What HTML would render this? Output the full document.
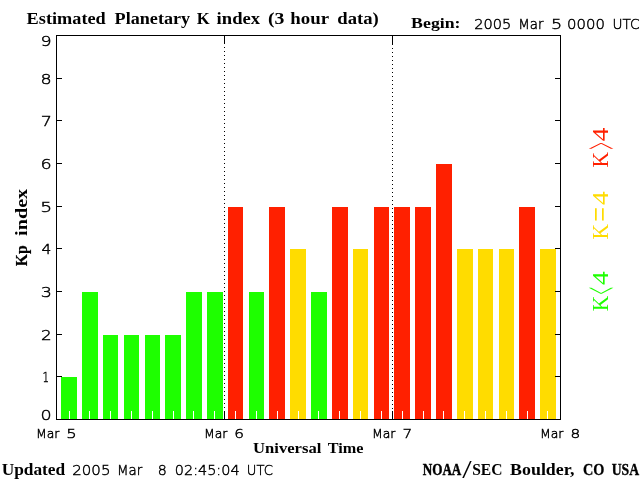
<!DOCTYPE html>
<html lang="en"><head><meta charset="utf-8"><title>Estimated Planetary K index</title>
<style>
html,body{margin:0;padding:0;background:#fff;}
body{width:640px;height:480px;overflow:hidden;}
svg{display:block;}
text{white-space:pre;}
.b{font-family:"Liberation Serif","DejaVu Serif",serif;font-weight:bold;fill:#000;}
.s{font-family:"DejaVu Sans","Liberation Sans",sans-serif;font-weight:200;fill:#000;stroke:#000;stroke-width:0.45;}
.l{font-family:"Liberation Serif","DejaVu Serif",serif;font-weight:normal;}
</style></head><body>
<svg width="640" height="480" viewBox="0 0 640 480">
<rect width="640" height="480" fill="#fff"/>
<g shape-rendering="crispEdges">
<rect x="61" y="377" width="16" height="42" fill="#1eff00"/>
<rect x="82" y="292" width="16" height="127" fill="#1eff00"/>
<rect x="103" y="335" width="15" height="84" fill="#1eff00"/>
<rect x="124" y="335" width="15" height="84" fill="#1eff00"/>
<rect x="145" y="335" width="15" height="84" fill="#1eff00"/>
<rect x="165" y="335" width="16" height="84" fill="#1eff00"/>
<rect x="186" y="292" width="16" height="127" fill="#1eff00"/>
<rect x="207" y="292" width="16" height="127" fill="#1eff00"/>
<rect x="228" y="207" width="15" height="212" fill="#ff2000"/>
<rect x="249" y="292" width="15" height="127" fill="#1eff00"/>
<rect x="269" y="207" width="16" height="212" fill="#ff2000"/>
<rect x="290" y="249" width="16" height="170" fill="#ffdc00"/>
<rect x="311" y="292" width="16" height="127" fill="#1eff00"/>
<rect x="332" y="207" width="16" height="212" fill="#ff2000"/>
<rect x="353" y="249" width="15" height="170" fill="#ffdc00"/>
<rect x="374" y="207" width="15" height="212" fill="#ff2000"/>
<rect x="394" y="207" width="16" height="212" fill="#ff2000"/>
<rect x="415" y="207" width="16" height="212" fill="#ff2000"/>
<rect x="436" y="164" width="16" height="255" fill="#ff2000"/>
<rect x="457" y="249" width="16" height="170" fill="#ffdc00"/>
<rect x="478" y="249" width="15" height="170" fill="#ffdc00"/>
<rect x="499" y="249" width="15" height="170" fill="#ffdc00"/>
<rect x="519" y="207" width="16" height="212" fill="#ff2000"/>
<rect x="540" y="249" width="16" height="170" fill="#ffdc00"/>
<rect x="69" y="411" width="1" height="8" fill="#fff"/>
<rect x="89" y="411" width="1" height="8" fill="#fff"/>
<rect x="110" y="411" width="1" height="8" fill="#fff"/>
<rect x="131" y="411" width="1" height="8" fill="#fff"/>
<rect x="152" y="411" width="1" height="8" fill="#fff"/>
<rect x="173" y="411" width="1" height="8" fill="#fff"/>
<rect x="193" y="411" width="1" height="8" fill="#fff"/>
<rect x="214" y="411" width="1" height="8" fill="#fff"/>
<rect x="235" y="411" width="1" height="8" fill="#fff"/>
<rect x="256" y="411" width="1" height="8" fill="#fff"/>
<rect x="277" y="411" width="1" height="8" fill="#fff"/>
<rect x="298" y="411" width="1" height="8" fill="#fff"/>
<rect x="318" y="411" width="1" height="8" fill="#fff"/>
<rect x="339" y="411" width="1" height="8" fill="#fff"/>
<rect x="360" y="411" width="1" height="8" fill="#fff"/>
<rect x="381" y="411" width="1" height="8" fill="#fff"/>
<rect x="402" y="411" width="1" height="8" fill="#fff"/>
<rect x="423" y="411" width="1" height="8" fill="#fff"/>
<rect x="443" y="411" width="1" height="8" fill="#fff"/>
<rect x="464" y="411" width="1" height="8" fill="#fff"/>
<rect x="485" y="411" width="1" height="8" fill="#fff"/>
<rect x="506" y="411" width="1" height="8" fill="#fff"/>
<rect x="527" y="411" width="1" height="8" fill="#fff"/>
<rect x="547" y="411" width="1" height="8" fill="#fff"/>
<rect x="56" y="35" width="505" height="1" fill="#000"/>
<rect x="56" y="419" width="505" height="1" fill="#000"/>
<rect x="56" y="35" width="1" height="385" fill="#000"/>
<rect x="560" y="35" width="1" height="385" fill="#000"/>
<rect x="57" y="376" width="5" height="1" fill="#000"/>
<rect x="555" y="376" width="5" height="1" fill="#000"/>
<rect x="57" y="334" width="5" height="1" fill="#000"/>
<rect x="555" y="334" width="5" height="1" fill="#000"/>
<rect x="57" y="291" width="5" height="1" fill="#000"/>
<rect x="555" y="291" width="5" height="1" fill="#000"/>
<rect x="57" y="248" width="5" height="1" fill="#000"/>
<rect x="555" y="248" width="5" height="1" fill="#000"/>
<rect x="57" y="206" width="5" height="1" fill="#000"/>
<rect x="555" y="206" width="5" height="1" fill="#000"/>
<rect x="57" y="163" width="5" height="1" fill="#000"/>
<rect x="555" y="163" width="5" height="1" fill="#000"/>
<rect x="57" y="120" width="5" height="1" fill="#000"/>
<rect x="555" y="120" width="5" height="1" fill="#000"/>
<rect x="57" y="78" width="5" height="1" fill="#000"/>
<rect x="555" y="78" width="5" height="1" fill="#000"/>
<rect x="224" y="411" width="1" height="8" fill="#000"/>
<rect x="224" y="36" width="1" height="8" fill="#000"/>
<line x1="224.5" y1="47" x2="224.5" y2="408" stroke="#000" stroke-width="1" stroke-dasharray="1 3"/>
<rect x="392" y="411" width="1" height="8" fill="#000"/>
<rect x="392" y="36" width="1" height="9" fill="#000"/>
<line x1="392.5" y1="48" x2="392.5" y2="409" stroke="#000" stroke-width="1" stroke-dasharray="1 3"/>
</g>
<text class="b" font-size="16.8" x="26.63" y="24" textLength="79.10" lengthAdjust="spacingAndGlyphs">Estimated</text><text class="b" font-size="16.8" x="114.64" y="24" textLength="75.46" lengthAdjust="spacingAndGlyphs">Planetary</text><text class="b" font-size="16.8" x="196.67" y="24" textLength="12.97" lengthAdjust="spacingAndGlyphs">K</text><text class="b" font-size="16.8" x="216.63" y="24" textLength="43.45" lengthAdjust="spacingAndGlyphs">index</text><text class="b" font-size="16.8" x="267.96" y="24" textLength="16.44" lengthAdjust="spacingAndGlyphs">(3</text><text class="b" font-size="16.8" x="290.37" y="24" textLength="38.68" lengthAdjust="spacingAndGlyphs">hour</text><text class="b" font-size="16.8" x="337.25" y="24" textLength="41.54" lengthAdjust="spacingAndGlyphs">data)</text>
<text class="b" font-size="14.7" x="411.14" y="28.4" textLength="49.42" lengthAdjust="spacingAndGlyphs">Begin:</text>
<text class="s" font-size="14.0" x="474.28" y="28.5" textLength="37.10" lengthAdjust="spacingAndGlyphs">2005</text><text class="s" font-size="14.0" x="518.16" y="28.5" textLength="25.25" lengthAdjust="spacingAndGlyphs">Mar</text><text class="s" font-size="14.0" x="551.04" y="28.5" textLength="11.21" lengthAdjust="spacingAndGlyphs">5</text><text class="s" font-size="14.0" x="566.96" y="28.5" textLength="37.91" lengthAdjust="spacingAndGlyphs">0000</text><text class="s" font-size="14.0" x="612.55" y="28.5" textLength="27.12" lengthAdjust="spacingAndGlyphs">UTC</text>
<text class="s" font-size="14.9" x="40.62" y="419.7" textLength="11.17" lengthAdjust="spacingAndGlyphs">0</text>
<text class="s" font-size="14.9" x="42.57" y="381.6" textLength="6.52" lengthAdjust="spacingAndGlyphs">1</text>
<text class="s" font-size="14.9" x="41.02" y="339.6" textLength="10.69" lengthAdjust="spacingAndGlyphs">2</text>
<text class="s" font-size="14.9" x="40.80" y="296.6" textLength="11.17" lengthAdjust="spacingAndGlyphs">3</text>
<text class="s" font-size="14.9" x="41.43" y="253.6" textLength="9.86" lengthAdjust="spacingAndGlyphs">4</text>
<text class="s" font-size="14.9" x="40.32" y="211.6" textLength="11.97" lengthAdjust="spacingAndGlyphs">5</text>
<text class="s" font-size="14.9" x="40.44" y="168.6" textLength="11.17" lengthAdjust="spacingAndGlyphs">6</text>
<text class="s" font-size="14.9" x="40.80" y="125.6" textLength="11.17" lengthAdjust="spacingAndGlyphs">7</text>
<text class="s" font-size="14.9" x="40.62" y="83.6" textLength="11.17" lengthAdjust="spacingAndGlyphs">8</text>
<text class="s" font-size="14.9" x="40.44" y="45.9" textLength="11.17" lengthAdjust="spacingAndGlyphs">9</text>
<text class="s" font-size="12.9" x="35.90" y="437.5" textLength="23.56" lengthAdjust="spacingAndGlyphs">Mar</text><text class="s" font-size="12.9" x="66.16" y="437.5" textLength="10.45" lengthAdjust="spacingAndGlyphs">5</text>
<text class="s" font-size="12.9" x="203.90" y="437.5" textLength="23.56" lengthAdjust="spacingAndGlyphs">Mar</text><text class="s" font-size="12.9" x="234.27" y="437.5" textLength="9.76" lengthAdjust="spacingAndGlyphs">6</text>
<text class="s" font-size="12.9" x="371.90" y="437.5" textLength="23.56" lengthAdjust="spacingAndGlyphs">Mar</text><text class="s" font-size="12.9" x="402.57" y="437.5" textLength="9.76" lengthAdjust="spacingAndGlyphs">7</text>
<text class="s" font-size="12.9" x="539.90" y="437.5" textLength="23.56" lengthAdjust="spacingAndGlyphs">Mar</text><text class="s" font-size="12.9" x="570.42" y="437.5" textLength="9.76" lengthAdjust="spacingAndGlyphs">8</text>
<text class="b" font-size="14" x="253.07" y="452.6" textLength="68.28" lengthAdjust="spacingAndGlyphs">Universal</text><text class="b" font-size="14" x="327.68" y="452.6" textLength="35.71" lengthAdjust="spacingAndGlyphs">Time</text>
<text class="b" font-size="16" x="1.65" y="475" textLength="63.48" lengthAdjust="spacingAndGlyphs">Updated</text>
<text class="s" font-size="14.3" x="72.25" y="475" textLength="38.18" lengthAdjust="spacingAndGlyphs">2005</text><text class="s" font-size="14.3" x="116.91" y="475" textLength="25.25" lengthAdjust="spacingAndGlyphs">Mar</text><text class="s" font-size="14.3" x="157.77" y="475" textLength="9.05" lengthAdjust="spacingAndGlyphs">8</text><text class="s" font-size="14.3" x="174.75" y="475" textLength="64.87" lengthAdjust="spacingAndGlyphs">02:45:04</text><text class="s" font-size="14.3" x="246.86" y="475" textLength="26.03" lengthAdjust="spacingAndGlyphs">UTC</text>
<text class="l" font-size="16" transform="translate(462.30 477.50) scale(2.121 1.567)">/</text>
<text class="b" font-size="16" x="422.74" y="474.5" textLength="38.57" lengthAdjust="spacingAndGlyphs" stroke="#000" stroke-width="0.49">NOAA</text><text class="b" font-size="16" x="472.22" y="474.5" textLength="30.20" lengthAdjust="spacingAndGlyphs">SEC</text><text class="b" font-size="16" x="510.14" y="474.5" textLength="64.38" lengthAdjust="spacingAndGlyphs">Boulder,</text><text class="b" font-size="16" x="583.04" y="474.5" textLength="21.43" lengthAdjust="spacingAndGlyphs" stroke="#000" stroke-width="0.26">CO</text><text class="b" font-size="16" x="611.73" y="474.5" textLength="27.42" lengthAdjust="spacingAndGlyphs" stroke="#000" stroke-width="0.37">USA</text>
<g transform="translate(27 266) rotate(-90)"><text class="b" font-size="17" x="-0.31" y="0" textLength="21.01" lengthAdjust="spacingAndGlyphs" stroke="#000" stroke-width="0.17">Kp</text><text class="b" font-size="17" x="30.10" y="0" textLength="47.09" lengthAdjust="spacingAndGlyphs">index</text></g>
<g transform="translate(607.75 166.9) rotate(-90)" fill="#ff2000"><text class="l" font-size="24" transform="translate(-0.65 -0.24) scale(0.898 0.988)">K</text><text class="l" font-size="24" transform="translate(17.51 9.75) scale(0.532 2.083)">&gt;</text><text class="l" font-size="24" transform="translate(25.76 -0.24) scale(1.132 0.994)">4</text></g>
<g transform="translate(607.75 238.75) rotate(-90)" fill="#ffdc00"><text class="l" font-size="24" transform="translate(-0.65 -0.24) scale(0.898 0.988)">K</text><text class="l" font-size="24" transform="translate(17.04 3.43) scale(1.090 1.375)">=</text><text class="l" font-size="24" transform="translate(33.81 -0.24) scale(1.132 0.994)">4</text></g>
<g transform="translate(607.75 310.6) rotate(-90)" fill="#1eff00"><text class="l" font-size="24" transform="translate(-0.65 -0.24) scale(0.898 0.988)">K</text><text class="l" font-size="24" transform="translate(16.19 9.75) scale(0.554 2.083)">&lt;</text><text class="l" font-size="24" transform="translate(25.66 -0.24) scale(1.132 0.994)">4</text></g>
</svg></body></html>
